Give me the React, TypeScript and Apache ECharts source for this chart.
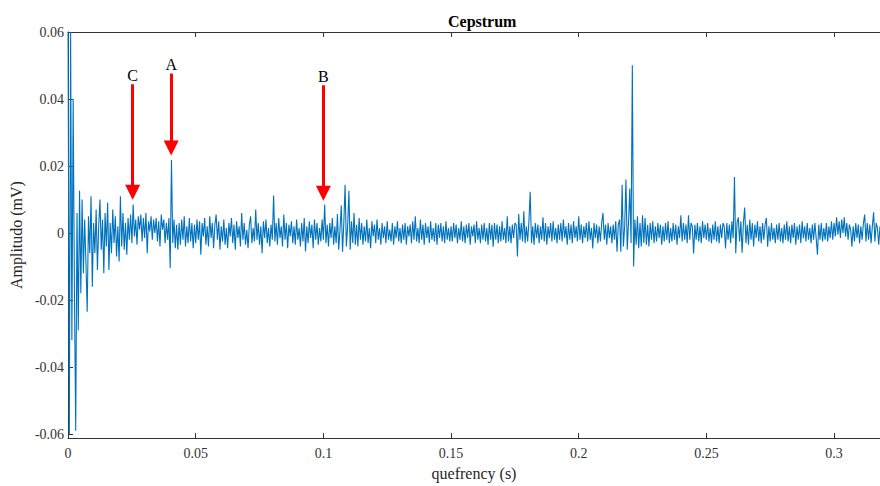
import React, { useEffect, useRef } from "react";
import * as echarts from "echarts";

// quefrency step between samples (s); amplitudes below are in units of 1e-4 mV
const STEP = 0.0005;

const seg0 = [600, -600, 600, -320, 400, -180, -590, 60, -290, 126, -180, 100, -120, 40, -90, -235, 50, -60, 110, -160,
  30, -60, 70, -110, 20, 100, -50, 40, -120, 60, -40, 90, -110, 30, -60, 70, -30, 50, -70, 20,
  -85, 110, -40, 60, -50, 30, -65, 45, -20, 55, -30, 85, -10, 40, -35, 50, 10, 55, -25, 45,
  -15, 60, -60, 35, 5, 50, -20, 40, 0, 45, -25, 35, -40, 55, 10, 40, -30, 30, -20, 45,
  -105, 218, -30, 40, -45, 25, -50, 30, -35, 40, -20, 50, -40, 20, -30, 45, -25, 30, -45, 25];

const seg1 = [-30, 40, -20, 35, -65, 30, -10, 45, -35, 20, -40, 50, -15, 30, -45, 25, 55, -20, 35, -50,
  20, -25, 40, -35, 15, -45, 30, -10, 45, -30, 25, -50, 35, -15, 20, -40, 60, -20, 30, -35,
  10, -45, 25, 50, -30, 15, -25, 70, -20, 30, -35, 20, -60, 35, -15, 40, -30, 15, -40, 25,
  -20, 112, -25, 30, -35, 45, -15, 20, -40, 55, -20, 30, -45, 25, -10, 35, -30, 20, -35, 40,
  -20, 15, -40, 30, -25, 45, -55, 20, -30, 35, -15, 25, -45, 40, -20, 30, -35, 15, -25, 40];

const seg2 = [-20, 85, -30, 25, -40, 30, -15, 45, -35, 20, -30, 57, -50, 10, 82, -56, 30, 144, -40, 20,
  126, -50, 35, -30, 60, -35, 25, -40, 45, -20, 30, -35, 20, -25, 40, -30, 15, -45, 35, -10,
  25, -30, 40, -20, 15, -35, 30, -15, 20, -30, 35, -20, 10, -25, 30, -35, 20, -15, 35, -25,
  15, -30, 25, -20, 30, -35, 20, -10, 25, -30, 35, -20, 50, -25, 15, -30, 40, -20, 25, -35,
  30, -15, 20, -30, 35, -20, 15, -25, 30, -35, 25, -15, 30, -25, 20, -30, 35, -20, 15, -25];

const seg3 = [20, -25, 30, -15, 25, -30, 15, -20, 35, -25, 20, -30, 25, -15, 30, -35, 20, -10, 25, -30,
  35, -20, 15, -30, 25, -20, 30, -25, 15, -35, 30, -20, 25, -41, 30, -20, 25, -30, 20, -25,
  35, -20, 15, -30, 50, -25, 20, -30, 25, -15, 30, 25, -70, 57, -20, 30, -25, 65, -30, 20,
  -25, 35, 123, -30, 20, -35, 30, -15, 25, -30, 20, -20, 47, -25, 30, -35, 20, -15, 30, -25,
  35, -20, 15, -30, 25, -20, 30, -25, 40, -15, 20, -35, 30, -20, 25, -30, 35, -15, 20, -25];

const seg4 = [50, -20, 25, -30, 20, -15, 30, -25, 35, -20, 15, -46, 30, -15, 25, -30, 20, -25, 30, 60,
  -20, 25, -35, 30, -15, 20, -30, 25, -20, 35, -56, 25, 40, -56, 144, -40, 20, 160, -50, 30,
  133, -30, 501, -100, 40, -35, 50, -45, 30, -40, 53, -30, 45, -35, 25, -40, 30, -20, 35, -30,
  20, -25, 30, -15, 25, -35, 20, -25, 30, -20, 35, -30, 15, -25, 30, -20, 25, -35, 20, -15,
  53, -25, 30, -20, 25, -30, 53, -20, 30, 20, -61, 25, -20, 30, -25, 20, -30, 35, -15, 25];

const seg5 = [-20, 30, -25, 15, -30, 25, -20, 35, -25, 20, -30, 25, -15, 30, 20, -46, 30, -20, 25, -30,
  35, -15, 167, -60, 30, 47, -25, 35, -59, 30, 76, -30, 25, -35, 40, -20, 30, -40, 25, -15,
  35, -25, 20, -30, 30, -20, 25, 45, -41, 20, -25, 30, -20, 15, -30, 25, -20, 30, -25, 15,
  -30, 25, -20, 35, -25, 20, -30, 25, -15, 30, -35, 20, -20, 25, -30, 35, -15, 20, -25, 30,
  -20, 15, -30, 25, -20, 30, -15, -65, 25, -20, 30, -25, 15, -20, 30, -25, 20, -15, 35, -20];

const seg6 = [30, -10, 47, -5, 35, -15, 40, 0, 47, -10, 30, -20, 25, 10, -41, 20, -25, 30, -15, 25,
  -30, 20, -20, 30, 55, -25, 30, -20, 25, -30, 20, 62, -25, 30, 15, -35, 20];

const xTicks = [0, 0.05, 0.1, 0.15, 0.2, 0.25, 0.3];
const yTicks = [-0.06, -0.04, -0.02, 0, 0.02, 0.04, 0.06];

// annotation arrows: label, quefrency, top amplitude, tip amplitude
const arrowNames = ["C", "A", "B"];
const arrowX = [0.0253, 0.0404, 0.1];
const arrowTop = [0.0444, 0.0476, 0.0441];
const arrowTip = [0.0122, 0.0254, 0.0119];

const amplitudes = [...seg0, ...seg1, ...seg2, ...seg3, ...seg4, ...seg5, ...seg6];

const FONT = "'Liberation Serif', 'Times New Roman', serif";

export default function App() {
  const ref = useRef<HTMLDivElement>(null);
  useEffect(() => {
    if (!ref.current) return;
    const chart = echarts.init(ref.current, undefined, { renderer: "svg" });
    const data = amplitudes.map((v, i) => [+(i * STEP).toFixed(5), v * 1e-4]);
    const fmt = (v: number) => String(+v.toFixed(3));
    const axisColor = "#333333";
    chart.setOption({
      animation: false,
      title: {
        text: "Cepstrum",
        left: 443,
        top: 8,
        textStyle: { fontFamily: FONT, fontWeight: "bold", fontSize: 16, color: "#000" },
      },
      grid: { left: 67, right: 0, top: 32, bottom: 42 },
      xAxis: [
        {
          type: "value",
          position: "bottom",
          min: 0,
          max: 0.318,
          name: "quefrency (s)",
          nameLocation: "middle",
          nameGap: 26,
          nameTextStyle: { fontFamily: FONT, fontSize: 16, color: "#262626" },
          axisLine: { show: true, onZero: false, lineStyle: { color: axisColor, width: 1 } },
          axisTick: { show: true, inside: true, length: 5, customValues: xTicks, lineStyle: { color: axisColor } },
          axisLabel: { customValues: xTicks, formatter: fmt, margin: 8, fontFamily: FONT, fontSize: 14, color: "#333" },
          splitLine: { show: false },
        },
        {
          type: "value",
          position: "top",
          min: 0,
          max: 0.318,
          axisLine: { show: true, onZero: false, lineStyle: { color: axisColor, width: 1 } },
          axisTick: { show: true, inside: true, length: 5, customValues: xTicks, lineStyle: { color: axisColor } },
          axisLabel: { show: false },
          splitLine: { show: false },
        },
      ],
      yAxis: {
        type: "value",
        min: -0.0612,
        max: 0.06,
        name: "Amplitudo (mV)",
        nameLocation: "middle",
        nameGap: 38,
        nameRotate: 90,
        nameTextStyle: { fontFamily: FONT, fontSize: 16, color: "#262626" },
        axisLine: { show: true, onZero: false, lineStyle: { color: axisColor, width: 1 } },
        axisTick: { show: true, inside: true, length: 5, customValues: yTicks, lineStyle: { color: axisColor } },
        axisLabel: { customValues: yTicks, formatter: fmt, margin: 4, fontFamily: FONT, fontSize: 14, color: "#333" },
        splitLine: { show: false },
      },
      series: [
        {
          type: "line",
          data,
          showSymbol: false,
          symbol: "none",
          lineStyle: { color: "#0072BD", width: 1.1 },
          markLine: {
            silent: true,
            symbol: ["none", "triangle"],
            symbolSize: [15, 15],
            lineStyle: { color: "#FF0000", width: 3, type: "solid" },
            label: {
              show: true,
              position: "start",
              distance: 1,
              formatter: (p: any) => p.name,
              fontFamily: FONT,
              fontSize: 16,
              color: "#000",
            },
            data: arrowNames.map((n, i) => [
              { name: n, coord: [arrowX[i], arrowTop[i]] },
              { coord: [arrowX[i], arrowTip[i]] },
            ]),
          },
        },
      ],
    });
    return () => chart.dispose();
  }, []);
  return <div ref={ref} style={{ position: "absolute", left: 0, top: 0, width: 880, height: 486 }} />;
}
